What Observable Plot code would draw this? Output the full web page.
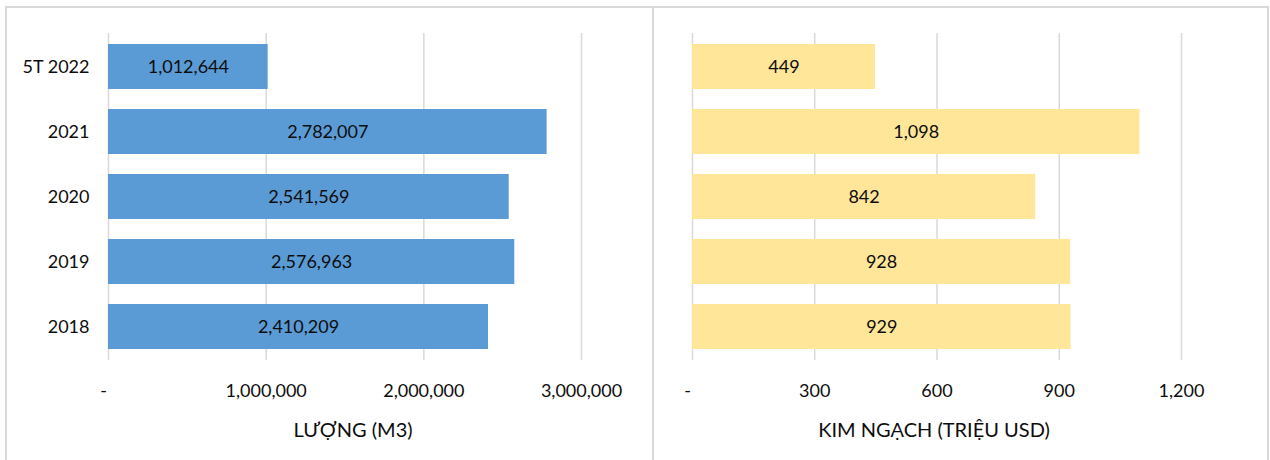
<!DOCTYPE html>
<html><head><meta charset="utf-8">
<script src="https://cdn.jsdelivr.net/npm/d3@7"></script>
<script src="https://cdn.jsdelivr.net/npm/@observablehq/plot@0.6"></script>
<style>
body{margin:0;background:#fff;font-family:Lato,sans-serif}
#wrap{position:relative;width:1270px;height:460px;overflow:hidden;background:#fff}
#frame{position:absolute;left:5px;top:6px;width:1264px;height:480px;border:2px solid #d9d9d9;box-sizing:border-box}
#divider{position:absolute;left:652px;top:7px;width:2px;height:460px;background:#d9d9d9}
#left{position:absolute;left:0;top:0}
#right{position:absolute;left:653px;top:0}
</style>
</head><body>
<div id="wrap"><div id="frame"></div><div id="divider"></div><div id="left"></div><div id="right"></div></div>
<script>
const categories = ["5T 2022", "2021", "2020", "2019", "2018"];
const volume = [1012644, 2782007, 2541569, 2576963, 2410209];
const turnover = [449, 1098, 842, 928, 929];
const volumeTicks = [0, 1000000, 2000000, 3000000];
const turnoverTicks = [0, 300, 600, 900, 1200];
const volumeTitle = "LƯỢNG (M3)";
const turnoverTitle = "KIM NGẠCH (TRIỆU USD)";

const fmt = d3.format(",");
const tickFmt = d => d === 0 ? "-" : fmt(d);
const ink = "#0d0d0d";

function panel({values, ticks, title, color, width, marginLeft, marginRight, showY, titleDx}) {
  const data = categories.map((c, i) => ({cat: c, v: values[i]}));
  return Plot.plot({
    width, height: 460,
    marginTop: 33, marginBottom: 100, marginLeft, marginRight,
    style: {fontFamily: "Lato, sans-serif", fontSize: "18px", color: ink, background: "transparent"},
    x: {domain: [ticks[0], ticks[ticks.length - 1]], ticks, tickFormat: tickFmt},
    y: {domain: categories, paddingInner: 0.31, paddingOuter: 0.155, align: 0.5},
    marks: [
      Plot.gridX(ticks, {stroke: "#d9d9d9", strokeOpacity: 1, strokeWidth: 1.5}),
      Plot.barX(data, {x: "v", y: "cat", fill: color}),
      Plot.text(data, {x: d => d.v / 2, y: "cat", text: d => fmt(d.v), fill: ink, fontSize: 18}),
      Plot.axisX(ticks.filter(t => t !== 0), {tickSize: 0, tickPadding: 24, tickFormat: tickFmt, label: null, fontSize: 18}),
      Plot.axisX(ticks.filter(t => t === 0), {tickSize: 0, tickPadding: 24, tickFormat: tickFmt, label: null, fontSize: 18, dx: -5}),
      showY ? Plot.axisY({tickSize: 0, tickPadding: 19, label: null, fontSize: 18}) : Plot.axisY({ticks: [], label: null}),
      Plot.text([title], {frameAnchor: "bottom", dy: 76, dx: titleDx, fontSize: 20, fill: ink, letterSpacing: "0.6px"})
    ]
  });
}

document.getElementById("left").append(panel({
  values: volume, ticks: volumeTicks, title: volumeTitle, color: "#5b9bd5",
  width: 653, marginLeft: 108, marginRight: 72, showY: true, titleDx: 8
}));
document.getElementById("right").append(panel({
  values: turnover, ticks: turnoverTicks, title: turnoverTitle, color: "#ffe699",
  width: 617, marginLeft: 39, marginRight: 89, showY: false, titleDx: -3
}));
</script>
</body></html>
